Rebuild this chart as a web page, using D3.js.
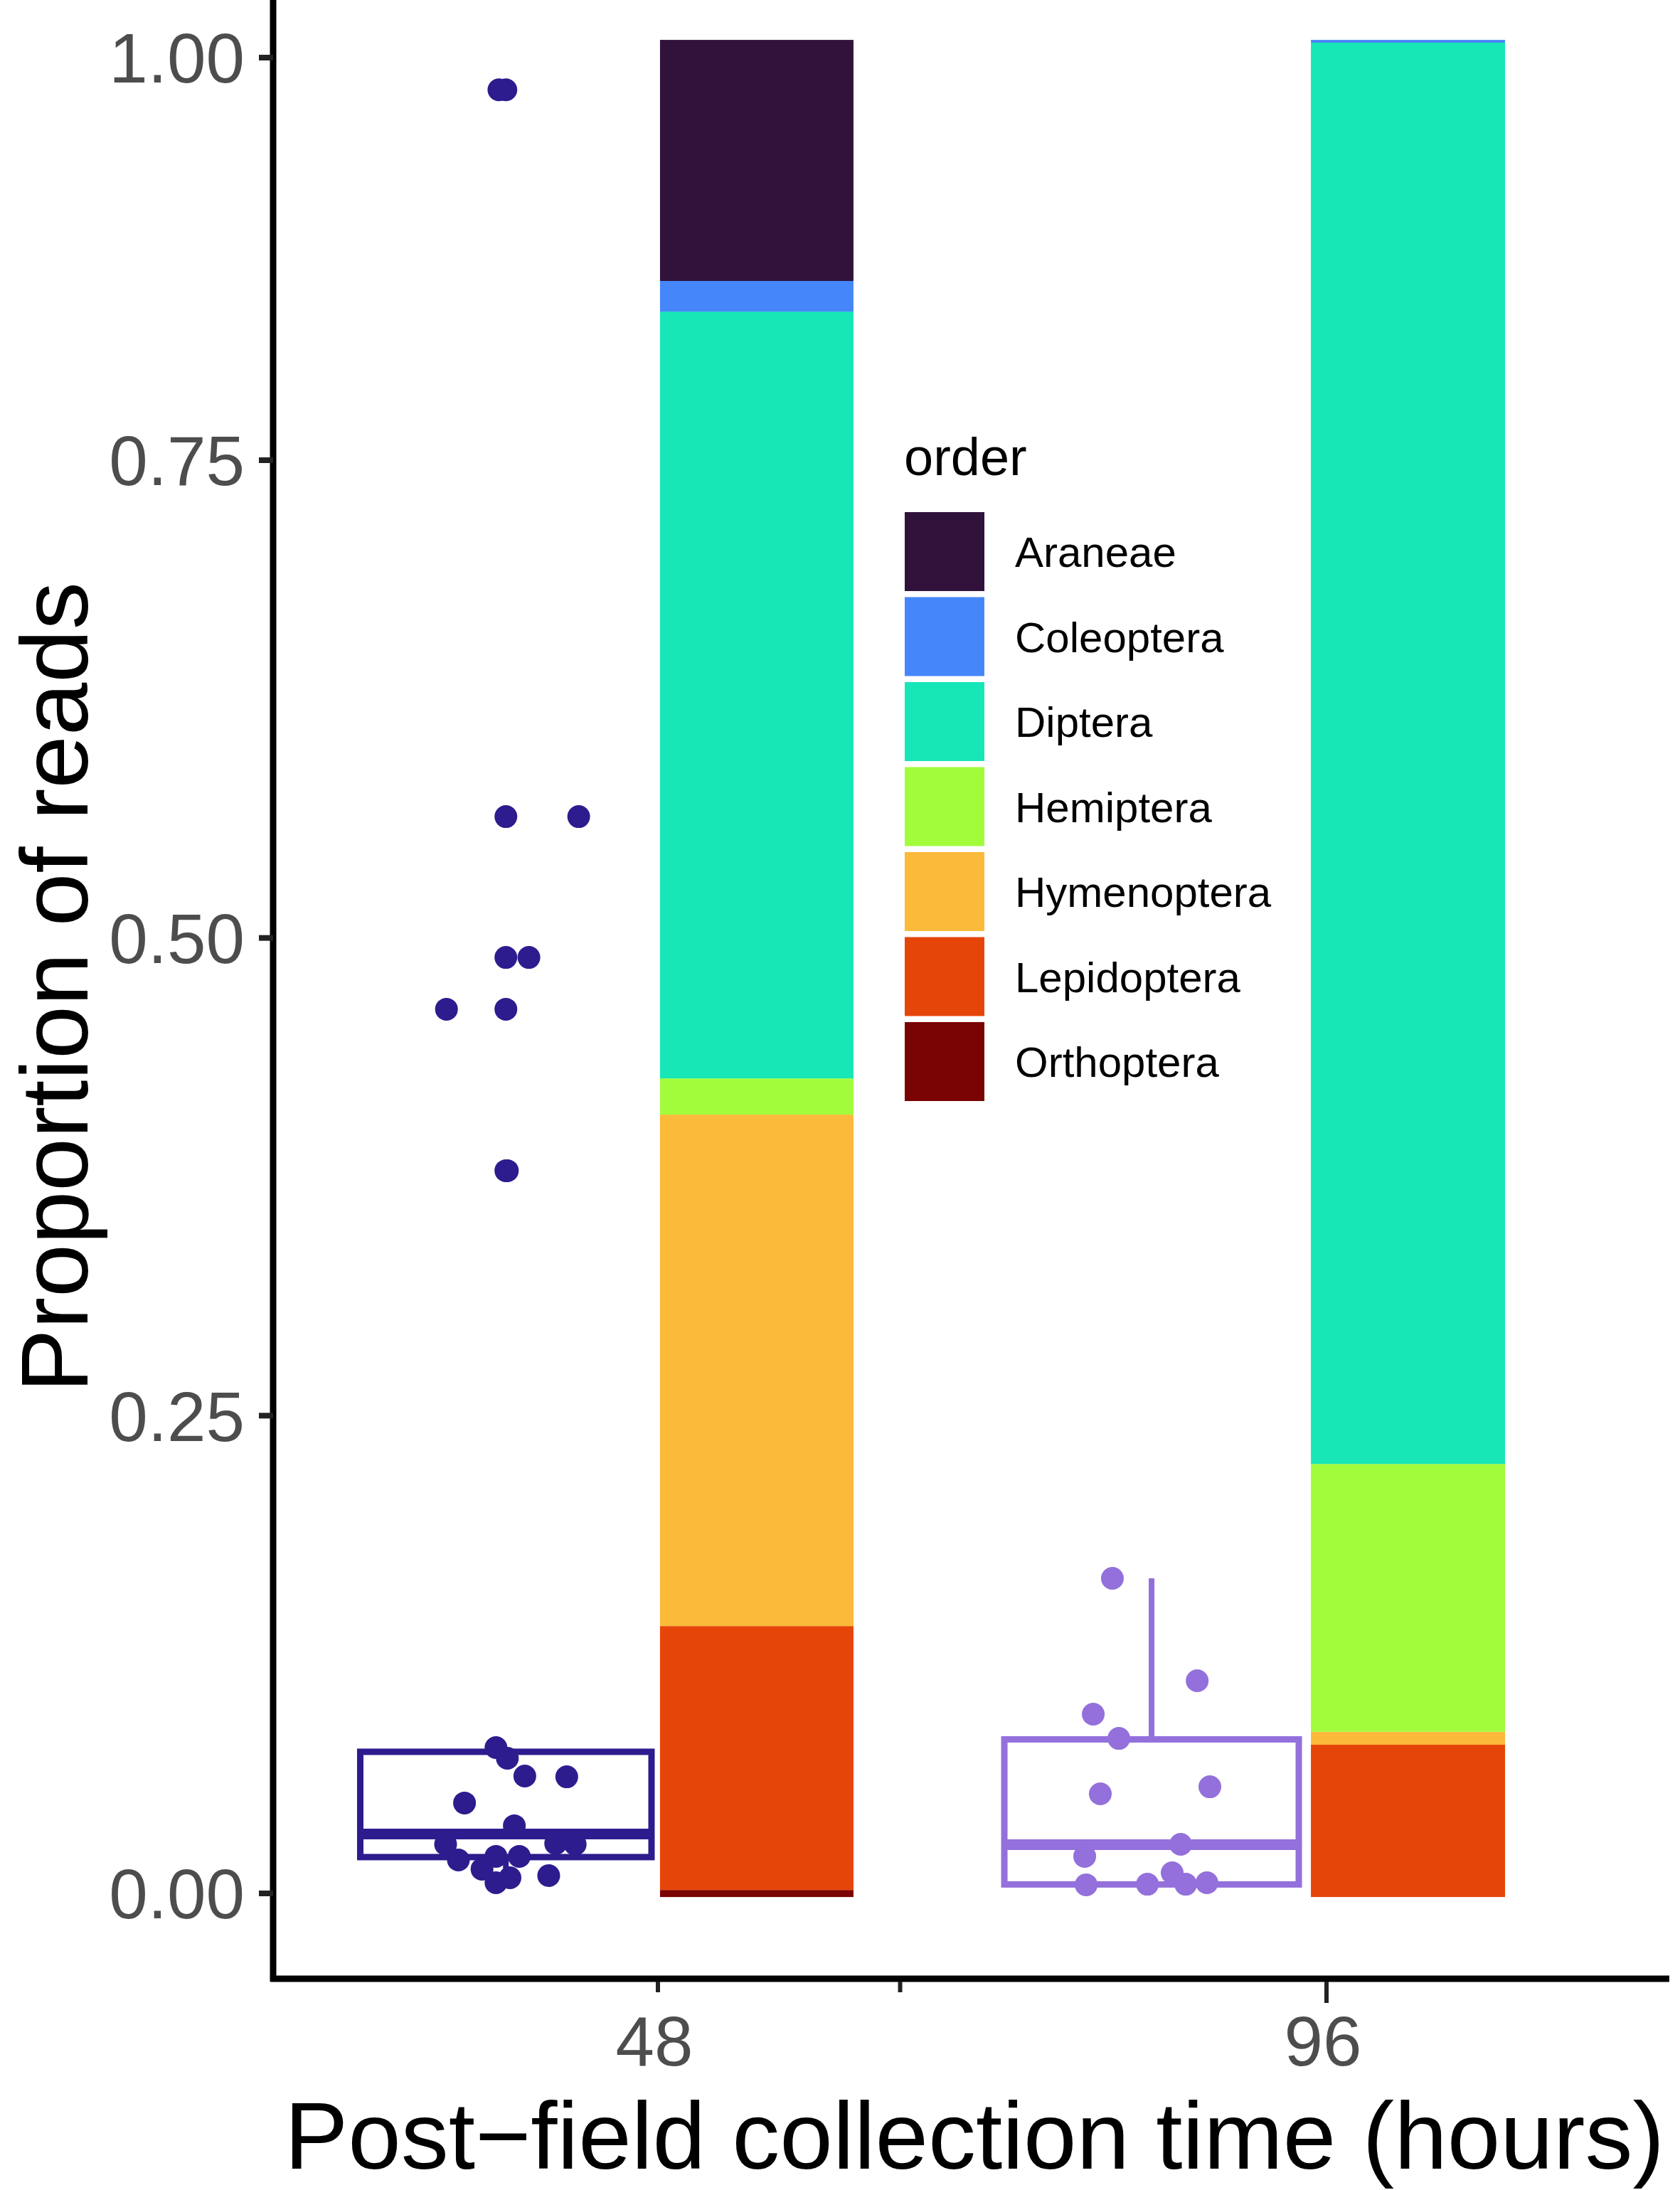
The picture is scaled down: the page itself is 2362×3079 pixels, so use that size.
<!DOCTYPE html>
<html>
<head>
<meta charset="utf-8">
<script src="https://cdn.jsdelivr.net/npm/d3@7"></script>
<style>
  html, body { margin: 0; padding: 0; background: #fff; }
  svg { display: block; font-family: "Liberation Sans", Arial, Helvetica, sans-serif; }
</style>
</head>
<body>
<div id="chart"></div>
<script>
// ---- data ----
const orders = ["Araneae", "Coleoptera", "Diptera", "Hemiptera", "Hymenoptera", "Lepidoptera", "Orthoptera"];
const orderColors = ["#30123B", "#4686FB", "#17E6B7", "#A2FC3C", "#FBBA39", "#E6450A", "#7A0403"];

const times = [48, 96];
const share48 = [0.1298, 0.0165, 0.4129, 0.0195, 0.2754, 0.1421, 0.0038];
const share96 = [0, 0.0015, 0.7653, 0.1442, 0.0070, 0.0820, 0];

const boxStats = [
    { time: 48, lower: 0.0056, q1: 0.0190, median: 0.0311, q3: 0.0741, upper: 0.0763 },
    { time: 96, lower: 0.0045, q1: 0.0047, median: 0.0255, q3: 0.0806, upper: 0.1649 }
];
const outliers48 = [0.98, 0.5635, 0.4898, 0.4627, 0.3782];
const outliers96 = [];

// jittered samples (jitter = share of box width from its centre)
const reads48 = [0.98, 0.5635, 0.4898, 0.4627, 0.3782, 0.0763, 0.0707, 0.0614, 0.0610, 0.0473, 0.0354,
                 0.0257, 0.0175, 0.0261, 0.0257, 0.0194, 0.0194, 0.0127, 0.0056, 0.0082, 0.0093];
const jitter48 = [-0.024, 0.25, 0.079, -0.204, 0.005, -0.034, 0.005, 0.065, 0.209, -0.142, 0.029,
                  -0.207, -0.163, 0.171, 0.238, -0.034, 0.046, -0.082, -0.034, 0.014, 0.147];
const reads96 = [0.1649, 0.1113, 0.0938, 0.0811, 0.0521, 0.0558, 0.0257, 0.0194, 0.0108, 0.0045, 0.0048, 0.0048, 0.0056];
const jitter96 = [-0.133, 0.155, -0.198, -0.111, -0.174, 0.198, 0.099, -0.227, 0.070, -0.222, -0.014, 0.116, 0.188];

const yTicks = [0, 0.25, 0.5, 0.75, 1.0];
const xTicks = [48, 65.39, 96];
const xTickLabels = ["48", "", "96"];

document.addEventListener('DOMContentLoaded', () => {

    const width = 2362;
    const height = 3079;
    const groupColors = { 48: "#2C1C8E", 96: "#9370DB" };

    // where each group sits along the (hours) axis
    const layout = {
        48: { box: [26.63, 47.54], bar: [48.15, 62.04] },
        96: { box: [72.87, 94.01], bar: [94.88, 108.82] }
    };

    const svg = d3.select("#chart").append("svg")
        .attr("width", width)
        .attr("height", height);

    // scales (the figure's y axis is squeezed above 0.75)
    const x = d3.scaleLinear().domain([48, 96]).range([925, 1865]);
    const y = d3.scaleLinear().domain([0, 0.75, 1]).range([2662, 647, 81]);
    const yBar = d3.scaleLinear().domain([0, 1]).range([y(-0.0019), y(1.011)]);
    const color = d3.scaleOrdinal().domain(orders).range(orderColors);

    // ---- stacked bars ----
    const rows = times.map((t, i) => {
        const vals = i === 0 ? share48 : share96;
        const row = { time: t };
        orders.forEach((o, j) => row[o] = vals[j]);
        return row;
    });
    const stack = d3.stack().keys(orders.slice().reverse());
    const series = stack(rows);

    svg.append("g").selectAll("g")
        .data(series)
        .enter().append("g")
        .attr("fill", d => color(d.key))
        .selectAll("rect")
        .data(d => d)
        .enter().append("rect")
        .attr("x", d => x(layout[d.data.time].bar[0]))
        .attr("width", d => x(layout[d.data.time].bar[1]) - x(layout[d.data.time].bar[0]))
        .attr("y", d => yBar(d[1]))
        .attr("height", d => Math.max(0, yBar(d[0]) - yBar(d[1])));

    // ---- boxplots ----
    const boxes = svg.append("g");
    boxStats.forEach(s => {
        const c = groupColors[s.time];
        const x0 = x(layout[s.time].box[0]);
        const x1 = x(layout[s.time].box[1]);
        const xm = (x0 + x1) / 2;
        const g = boxes.append("g").attr("stroke", c).attr("fill", "none");
        g.append("line").attr("x1", xm).attr("x2", xm)
            .attr("y1", y(s.q3)).attr("y2", y(s.upper)).attr("stroke-width", 8);
        g.append("line").attr("x1", xm).attr("x2", xm)
            .attr("y1", y(s.q1)).attr("y2", y(s.lower)).attr("stroke-width", 8);
        g.append("rect")
            .attr("x", x0).attr("width", x1 - x0)
            .attr("y", y(s.q3)).attr("height", y(s.q1) - y(s.q3))
            .attr("fill", "#fff")
            .attr("stroke-width", 9);
        g.append("line").attr("x1", x0).attr("x2", x1)
            .attr("y1", y(s.median)).attr("y2", y(s.median))
            .attr("stroke-width", 15);

        const outs = s.time === 48 ? outliers48 : outliers96;
        boxes.append("g").selectAll("circle")
            .data(outs)
            .enter().append("circle")
            .attr("cx", xm)
            .attr("cy", d => y(d))
            .attr("r", 16)
            .attr("fill", c);
    });

    // ---- jittered points ----
    const pts = [];
    reads48.forEach((v, i) => pts.push({ time: 48, v: v, j: jitter48[i] }));
    reads96.forEach((v, i) => pts.push({ time: 96, v: v, j: jitter96[i] }));

    svg.append("g").selectAll("circle")
        .data(pts)
        .enter().append("circle")
        .attr("cx", d => {
            const x0 = x(layout[d.time].box[0]);
            const x1 = x(layout[d.time].box[1]);
            return (x0 + x1) / 2 + d.j * (x1 - x0);
        })
        .attr("cy", d => y(d.v))
        .attr("r", 16)
        .attr("fill", d => groupColors[d.time]);

    // ---- axes ----
    const axisLeft = 384;
    const axisBottom = 2782;

    const yAxis = svg.append("g");
    yAxis.append("line")
        .attr("x1", axisLeft).attr("x2", axisLeft)
        .attr("y1", 0).attr("y2", axisBottom + 4)
        .attr("stroke", "#000").attr("stroke-width", 9);
    yAxis.selectAll(".tick")
        .data(yTicks)
        .enter().append("line")
        .attr("x1", 364).attr("x2", axisLeft)
        .attr("y1", d => y(d)).attr("y2", d => y(d))
        .attr("stroke", "#222").attr("stroke-width", 8);
    yAxis.selectAll("text")
        .data(yTicks)
        .enter().append("text")
        .attr("x", 344)
        .attr("y", d => y(d))
        .attr("dy", "0.36em")
        .attr("text-anchor", "end")
        .attr("font-size", 98)
        .attr("fill", "#4D4D4D")
        .text(d => d3.format(".2f")(d));

    const xAxis = svg.append("g");
    xAxis.append("line")
        .attr("x1", 380).attr("x2", 2347)
        .attr("y1", axisBottom).attr("y2", axisBottom)
        .attr("stroke", "#000").attr("stroke-width", 9);
    const tickLen = [15, 15, 30];
    xAxis.selectAll(".tick")
        .data(xTicks)
        .enter().append("line")
        .attr("x1", d => x(d)).attr("x2", d => x(d))
        .attr("y1", axisBottom + 4)
        .attr("y2", (d, i) => axisBottom + 4 + tickLen[i])
        .attr("stroke", "#222").attr("stroke-width", 6);
    xAxis.selectAll("text")
        .data(xTicks)
        .enter().append("text")
        .attr("x", d => x(d) - 5)
        .attr("y", 2904)
        .attr("text-anchor", "middle")
        .attr("font-size", 98)
        .attr("fill", "#4D4D4D")
        .text((d, i) => xTickLabels[i]);

    // axis titles (kept just inside the canvas edges)
    svg.append("text")
        .attr("x", 1370)
        .attr("y", 3049)
        .attr("text-anchor", "middle")
        .attr("font-size", 134)
        .attr("fill", "#000")
        .text("Post\u2212field collection time (hours)");

    svg.append("text")
        .attr("transform", "translate(123,1388) rotate(-90)")
        .attr("text-anchor", "middle")
        .attr("font-size", 134)
        .attr("fill", "#000")
        .text("Proportion of reads");

    // ---- legend ----
    const legend = svg.append("g").attr("transform", "translate(1272,720)");
    legend.append("text")
        .attr("x", -1)
        .attr("y", -52)
        .attr("font-size", 74)
        .attr("fill", "#000")
        .text("order");

    const keyStep = 119.5;
    const item = legend.selectAll(".key")
        .data(orders)
        .enter().append("g")
        .attr("transform", (d, i) => `translate(0,${i * keyStep})`);
    item.append("rect")
        .attr("width", 112)
        .attr("height", 111)
        .attr("fill", d => color(d));
    item.append("text")
        .attr("x", 155)
        .attr("y", 55.5)
        .attr("dy", "0.36em")
        .attr("font-size", 60)
        .attr("fill", "#000")
        .text(d => d);
});
</script>
</body>
</html>
